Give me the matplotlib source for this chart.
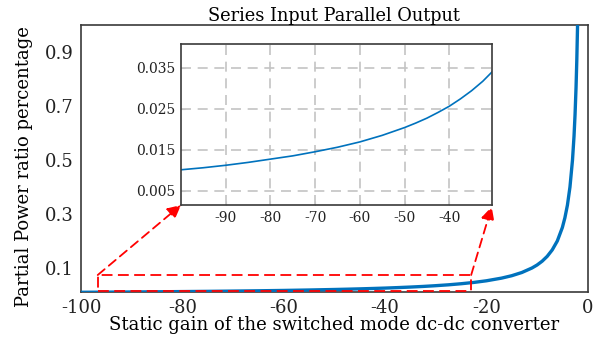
import numpy as np
import matplotlib
matplotlib.use("Agg")
import matplotlib.pyplot as plt
from matplotlib.patches import Rectangle

plt.rcParams['font.family'] = ['DejaVu Serif']
plt.rcParams['axes.unicode_minus'] = False

# static gain G vs partial power ratio
gain = [-100, -95, -90, -85, -80, -75, -70, -65, -60, -55, -50, -47.5, -45,
        -42.5, -40, -37.5, -35, -32.5, -30.5, -30, -27.5, -25, -22.5, -20, -17,
        -15, -13, -11, -10, -9, -8, -7, -6, -5, -4.5, -4, -3.5, -3, -2.7, -2.5,
        -2.3, -2.15, -2.0]
ppr = [0.0101, 0.0106, 0.0112, 0.0119, 0.0127, 0.0135, 0.0145, 0.0156, 0.0169,
       0.0185, 0.0204, 0.0215, 0.0227, 0.0241, 0.0256, 0.0274, 0.0294, 0.0317,
       0.0339, 0.0345, 0.0377, 0.0417, 0.0465, 0.0526, 0.0625, 0.0714, 0.0833,
       0.100, 0.111, 0.125, 0.143, 0.167, 0.200, 0.250, 0.286, 0.333, 0.400,
       0.500, 0.588, 0.667, 0.769, 0.870, 1.000]

main_xticks = [-100, -80, -60, -40, -20, 0]
main_yticks = [0.1, 0.3, 0.5, 0.7, 0.9]
inset_xticks = [-90, -80, -70, -60, -50, -40]
inset_yticks = [0.005, 0.015, 0.025, 0.035]

zoom_box = (-96.7, 0.014, -23.0, 0.074)  # x0, y0, x1, y1

blue = '#0072BD'
edge = '#3a3a3a'

fig = plt.figure(figsize=(6, 3.4), dpi=100)
ax = fig.add_axes([0.135, 0.1403, 0.8445, 0.7862])
ax.plot(gain, ppr, color=blue, linewidth=2.4, zorder=3)
ax.set_xlim(-100, 0)
ax.set_ylim(0.01, 1.0)
ax.set_xticks(main_xticks)
ax.set_yticks(main_yticks)
ax.set_xticklabels([str(t) for t in main_xticks])
ax.tick_params(length=0, labelsize=13, pad=5, colors='#222222')
for s in ax.spines.values():
    s.set_color(edge)
    s.set_linewidth(1.2)
ax.set_title("Series Input Parallel Output", fontsize=12.8, pad=3)
ax.set_xlabel("Static gain of the switched mode dc-dc converter", fontsize=13, labelpad=-1)
ax.set_ylabel("Partial Power ratio percentage", fontsize=13)
ax.yaxis.set_label_coords(-0.095, 0.469)

x0, y0, x1, y1 = zoom_box
ax.add_patch(Rectangle((x0, y0), x1 - x0, y1 - y0, fill=False, edgecolor='red',
                       linestyle=(0, (6, 3)), linewidth=1.3, zorder=4))

# inset
axin = fig.add_axes([0.3017, 0.397, 0.5178, 0.4736])
axin.plot(gain, ppr, color=blue, linewidth=1.2)
axin.set_xlim(-100, -30.5)
axin.set_ylim(0.0015, 0.0408)
axin.set_xticks(inset_xticks)
axin.set_yticks(inset_yticks)
axin.set_xticklabels([str(t) for t in inset_xticks])
axin.set_yticklabels([str(t) for t in inset_yticks])
axin.grid(True, color='#c4c4c4', linestyle=(0, (6, 4)), linewidth=1.2)
axin.tick_params(direction='in', length=3, color='#c4c4c4', labelsize=10, pad=4,
                 labelcolor='#222222')
for s in axin.spines.values():
    s.set_color(edge)
    s.set_linewidth(1.2)

arrow = dict(arrowstyle='-|>', color='red', linestyle=(0, (5, 3)), lw=1.3,
             mutation_scale=20, shrinkA=0, shrinkB=0)
ax.annotate('', xy=(0, 0), xycoords=axin.transAxes, xytext=(x0, y1),
            textcoords=ax.transData, arrowprops=arrow, zorder=5)
ax.annotate('', xy=(1, -0.01), xycoords=axin.transAxes, xytext=(x1, y1),
            textcoords=ax.transData, arrowprops=arrow, zorder=5)

fig.savefig('out.png', dpi=100)
